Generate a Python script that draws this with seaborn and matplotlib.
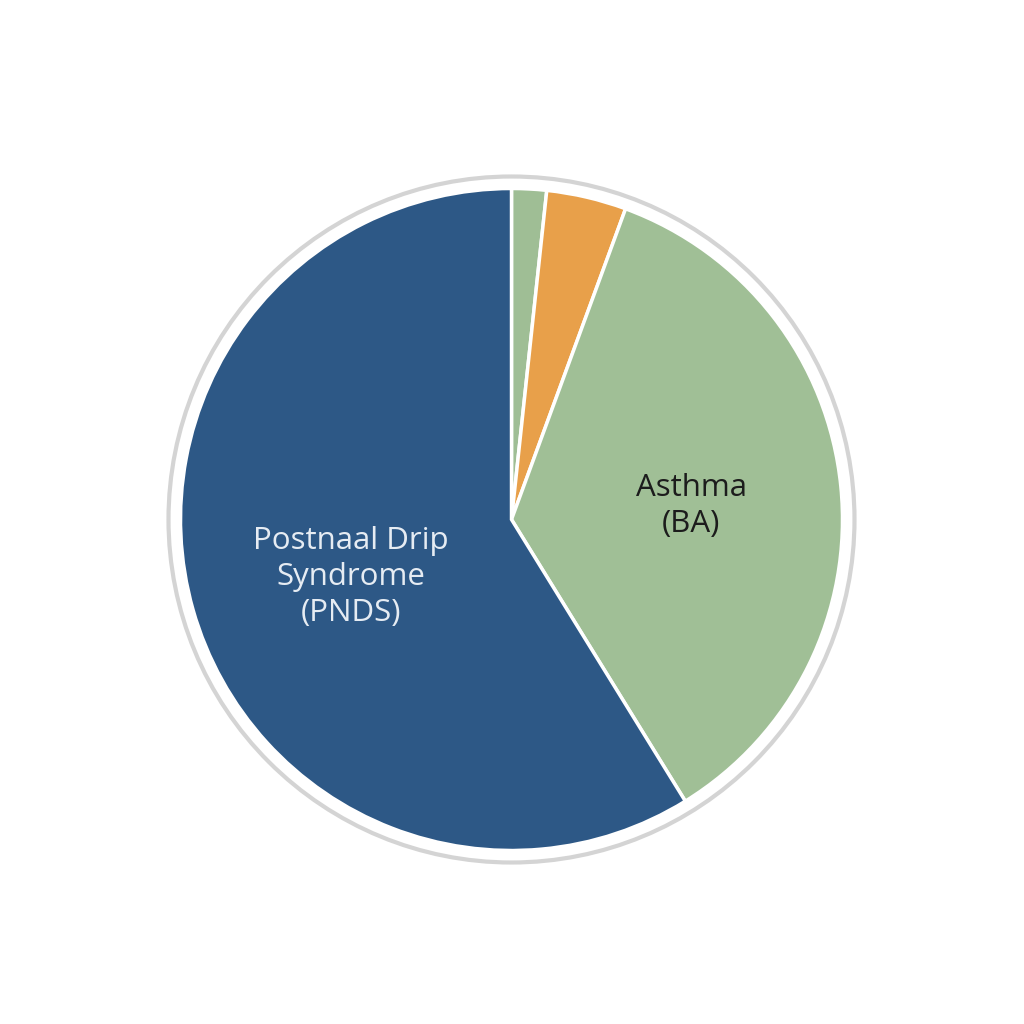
"""
Pie chart of chronic cough causes.
"""

import matplotlib
matplotlib.use("Agg")
import matplotlib.pyplot as plt
import seaborn as sns

# slices, clockwise from 12 o'clock
labels = ["", "", "Asthma\n(BA)", "Postnaal Drip\nSyndrome\n(PNDS)"]
values = [1.7, 3.9, 35.6, 58.8]
colors = ["#9fbe95", "#e8a04a", "#a0bf96", "#2d5886"]
label_colors = ["#222222", "#222222", "#1c1c1c", "#e6ecf3"]

sns.set_theme(style="white")
plt.rcParams["font.family"] = ["Open Sans", "DejaVu Sans"]

fig = plt.figure(figsize=(10.24, 10.24), dpi=100)
ax = fig.add_axes([0, 0, 1, 1])

cx, cy = 511.5, 1024 - 519.5
radius = 331

# light grey ring around the pie
ring = plt.Circle((cx, cy), 343, fill=False, edgecolor="#d4d4d4", linewidth=3)
ax.add_patch(ring)

wedges, _ = ax.pie(
    values,
    colors=colors,
    startangle=90,
    counterclock=False,
    center=(cx, cy),
    radius=radius,
    wedgeprops=dict(edgecolor="white", linewidth=2.5),
    frame=True,
)
ax.set_xlim(0, 1024)
ax.set_ylim(0, 1024)
ax.set_aspect("equal")
ax.axis("off")

ax.text(691, 1024 - 506, labels[2], ha="center", va="center",
        fontsize=22.5, color=label_colors[2], linespacing=1.25)
ax.text(351, 1024 - 577, labels[3], ha="center", va="center",
        fontsize=22.5, color=label_colors[3], linespacing=1.25)

fig.savefig("out.png", dpi=100)
plt.close(fig)
